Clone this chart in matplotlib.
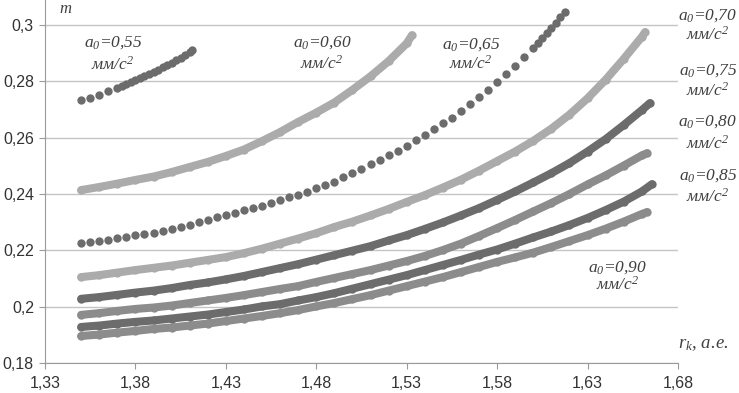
import matplotlib
matplotlib.use("Agg")
import matplotlib.pyplot as plt

plt.rcParams['mathtext.fontset'] = 'custom'
plt.rcParams['mathtext.it'] = 'Liberation Serif:italic'
plt.rcParams['mathtext.rm'] = 'Liberation Serif:italic'

# r_k grid for the dense curves (a.e.)
rk = [1.35, 1.36, 1.37, 1.38, 1.39, 1.40, 1.41, 1.42, 1.43, 1.44, 1.45, 1.46, 1.47,
      1.48, 1.49, 1.50, 1.51, 1.52, 1.53, 1.54, 1.55, 1.56, 1.57, 1.58, 1.59, 1.60,
      1.61, 1.62, 1.63, 1.64, 1.65, 1.66]

# a0 = 0.55 : a few sparse points then a dense run
rk_055 = [1.35, 1.355, 1.36, 1.365, 1.37, 1.3725, 1.375, 1.3775, 1.38, 1.3825, 1.385,
          1.3875, 1.39, 1.3925, 1.395, 1.3975, 1.40, 1.4025, 1.405, 1.4075, 1.41, 1.4115]
m_055 = [0.2734, 0.2742, 0.2751, 0.2767, 0.2776, 0.2783, 0.2790, 0.2797, 0.2804, 0.2811,
         0.2818, 0.2826, 0.2834, 0.2842, 0.2850, 0.2858, 0.2866, 0.2875, 0.2884, 0.2894,
         0.2904, 0.2911]

# a0 = 0.60
rk_060 = rk[:19] + [1.5329]
m_060 = [0.2414, 0.2425, 0.2437, 0.2450, 0.2462, 0.2478, 0.2496, 0.2514, 0.2535, 0.2558,
         0.2588, 0.2620, 0.2656, 0.2689, 0.2725, 0.2770, 0.2818, 0.2872, 0.2935, 0.2964]

# a0 = 0.65 : sparse dots, dense at the end
rk_065 = [1.35, 1.355, 1.36, 1.365, 1.37, 1.375, 1.38, 1.385, 1.39, 1.395, 1.40, 1.405,
          1.41, 1.415, 1.42, 1.425, 1.43, 1.435, 1.44, 1.445, 1.45, 1.455, 1.46, 1.465,
          1.47, 1.475, 1.48, 1.485, 1.49, 1.495, 1.50, 1.505, 1.51, 1.515, 1.52, 1.525,
          1.53, 1.535, 1.54, 1.545, 1.55, 1.555, 1.56, 1.565, 1.57, 1.575, 1.58, 1.585,
          1.59, 1.595, 1.60, 1.6025, 1.605, 1.6075, 1.61, 1.6125, 1.615, 1.6175]
m_065 = [0.2226, 0.2230, 0.2233, 0.2238, 0.2244, 0.2247, 0.2253, 0.2258, 0.2263, 0.2270,
         0.2276, 0.2283, 0.2290, 0.2299, 0.2308, 0.2317, 0.2325, 0.2334, 0.2343, 0.2350,
         0.2359, 0.2368, 0.2379, 0.2388, 0.2398, 0.2407, 0.2421, 0.2432, 0.2444, 0.2459,
         0.2474, 0.2490, 0.2505, 0.2521, 0.2537, 0.2554, 0.2572, 0.2592, 0.2609, 0.2631,
         0.2652, 0.2670, 0.2695, 0.2719, 0.2744, 0.2769, 0.2798, 0.2826, 0.2854, 0.2886,
         0.2918, 0.2936, 0.2954, 0.2971, 0.2991, 0.3009, 0.3028, 0.3046]

rk_070 = rk + [1.6618]
m_070 = [0.2105, 0.2112, 0.2121, 0.2130, 0.2138, 0.2146, 0.2156, 0.2166, 0.2176, 0.2190,
         0.2206, 0.2224, 0.2242, 0.2261, 0.2283, 0.2302, 0.2324, 0.2347, 0.2372, 0.2396,
         0.2423, 0.2451, 0.2483, 0.2517, 0.2551, 0.2589, 0.2632, 0.2682, 0.2740, 0.2806,
         0.2880, 0.2958, 0.2975]

rk_075 = rk + [1.6645]
m_075 = [0.2028, 0.2034, 0.2042, 0.2050, 0.2057, 0.2066, 0.2077, 0.2086, 0.2097, 0.2109,
         0.2123, 0.2137, 0.2151, 0.2167, 0.2183, 0.2199, 0.2215, 0.2235, 0.2254, 0.2276,
         0.2299, 0.2324, 0.2350, 0.2379, 0.2409, 0.2441, 0.2474, 0.2510, 0.2551, 0.2595,
         0.2645, 0.2698, 0.2723]

rk_080 = rk + [1.6629]
m_080 = [0.1971, 0.1977, 0.1985, 0.1992, 0.1997, 0.2004, 0.2013, 0.2022, 0.2031, 0.2041,
         0.2052, 0.2063, 0.2073, 0.2088, 0.2102, 0.2116, 0.2130, 0.2146, 0.2162, 0.2180,
         0.2201, 0.2224, 0.2251, 0.2279, 0.2308, 0.2338, 0.2368, 0.2400, 0.2434, 0.2466,
         0.2501, 0.2537, 0.2545]

rk_085 = rk + [1.6656]
m_085 = [0.1928, 0.1933, 0.1940, 0.1946, 0.1951, 0.1958, 0.1965, 0.1972, 0.1981, 0.1990,
         0.2001, 0.2009, 0.2022, 0.2034, 0.2048, 0.2064, 0.2080, 0.2096, 0.2112, 0.2130,
         0.2148, 0.2166, 0.2185, 0.2203, 0.2224, 0.2246, 0.2267, 0.2290, 0.2315, 0.2343,
         0.2373, 0.2409, 0.2435]

rk_090 = rk + [1.6629]
m_090 = [0.1896, 0.1901, 0.1908, 0.1914, 0.1921, 0.1926, 0.1933, 0.1940, 0.1949, 0.1958,
         0.1967, 0.1977, 0.1988, 0.2001, 0.2013, 0.2027, 0.2041, 0.2057, 0.2073, 0.2089,
         0.2105, 0.2123, 0.2141, 0.2159, 0.2175, 0.2192, 0.2212, 0.2233, 0.2254, 0.2277,
         0.2302, 0.2329, 0.2336]

a0_labels = ["0,55", "0,60", "0,65", "0,70", "0,75", "0,80", "0,85", "0,90"]
xticks = [1.33, 1.38, 1.43, 1.48, 1.53, 1.58, 1.63, 1.68]
xtick_labels = ["1,33", "1,38", "1,43", "1,48", "1,53", "1,58", "1,63", "1,68"]
yticks = [0.18, 0.20, 0.22, 0.24, 0.26, 0.28, 0.30]
ytick_labels = ["0,18", "0,2", "0,22", "0,24", "0,26", "0,28", "0,3"]

dark = '#6c6c6c'
mid = '#8c8c8c'
light = '#ababab'

fig = plt.figure(figsize=(7.39, 3.93), dpi=100)
ax = fig.add_axes([45/739, 30/393, 633/739, 363/393])

# sparse/dotted series: markers only
ax.plot(rk_055, m_055, 'o', color=dark, ms=6, mew=0, zorder=3)
ax.plot(rk_065, m_065, 'o', color=dark, ms=6, mew=0, zorder=3)
# dense series: thick line of dots
dense = [(rk_060, m_060, light), (rk_070, m_070, light), (rk_075, m_075, dark),
         (rk_080, m_080, mid), (rk_090, m_090, mid), (rk_085, m_085, dark)]
for xs, ys, c in dense:
    ax.plot(xs, ys, '-o', color=c, lw=5.8, ms=6, mew=0,
            solid_capstyle='round', solid_joinstyle='round', zorder=3)

ax.set_xlim(1.33, 1.68)
ax.set_ylim(0.18, 0.3089)
ax.set_xticks(xticks)
ax.set_xticklabels(xtick_labels)
ax.set_yticks(yticks)
ax.set_yticklabels(ytick_labels)
ax.grid(axis='y', color='#c4c4c4', lw=1, zorder=0)
ax.set_axisbelow(True)
for s in ['top', 'right']:
    ax.spines[s].set_visible(False)
for s in ['left', 'bottom']:
    ax.spines[s].set_color('#9a9a9a')
ax.tick_params(axis='x', length=4, color='#9a9a9a', pad=5)
ax.tick_params(axis='y', length=4, color='#9a9a9a', pad=4)
for lab in ax.get_xticklabels() + ax.get_yticklabels():
    lab.set_fontfamily('Liberation Sans')
    lab.set_fontsize(11.5)
    lab.set_color('#333333')

# curve labels
lab_pos = [(1.3676, 0.2936, 0.2858), (1.4832, 0.2936, 0.2861), (1.5655, 0.2932, 0.2861),
           (1.6966, 0.3035, 0.2964), (1.6966, 0.2837, 0.2766), (1.6966, 0.2656, 0.2577),
           (1.6966, 0.2464, 0.2389), (1.6468, 0.2137, 0.2077)]
tkw = dict(family='Liberation Serif', style='italic', fontsize=12.5, color='#404040',
           ha='center', va='center')
for lbl, (x, ya, yu) in zip(a0_labels, lab_pos):
    ax.text(x, ya, '$a_0$=' + lbl, **tkw)
    ax.text(x, yu, 'мм/с$^2$', **tkw)

ax.text(1.3411, 0.3057, 'm', family='Liberation Serif', style='italic', fontsize=12,
        color='#404040', ha='center', va='center')
ax.text(1.6938, 0.1864, '$r_k$, а.е.', family='Liberation Serif', style='italic',
        fontsize=13.5, color='#404040', ha='center', va='center')

fig.savefig('out.png', dpi=100)
